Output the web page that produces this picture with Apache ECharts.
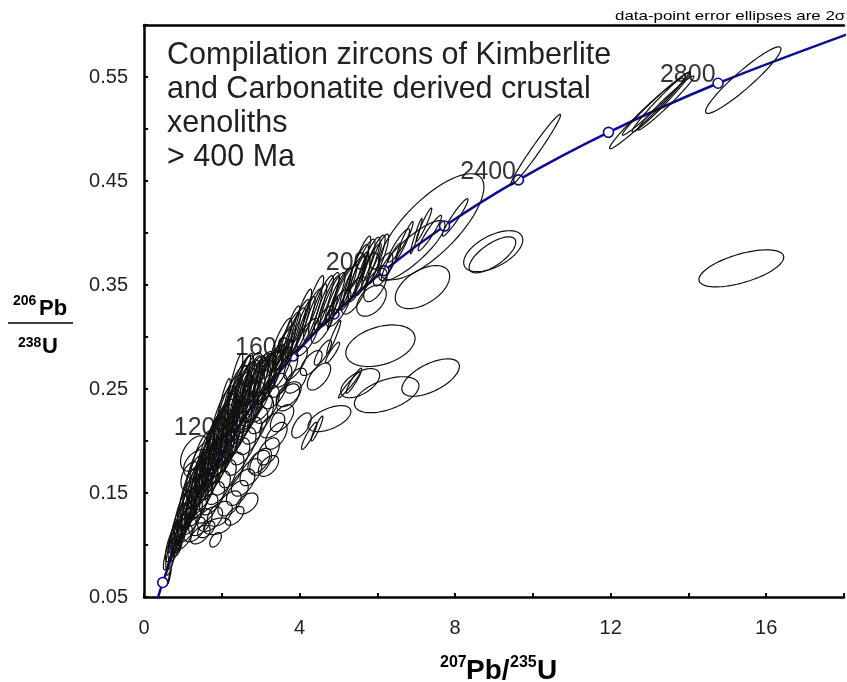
<!DOCTYPE html>
<html><head><meta charset="utf-8">
<script src="https://cdn.jsdelivr.net/npm/echarts@6/dist/echarts.min.js"></script>
<style>html,body{margin:0;padding:0;background:#fff}#c{width:847px;height:682px}</style>
</head><body><div id="c"></div>
<script>
// ---- Concordia (age in Ma, 207Pb/235U, 206Pb/238U) ----
const concAges = [0,200,400,600,800,1000,1200,1400,1600,1800,2000,2200,2400,2600,2800,3000];
const concX = [0,0.2177,0.4828,0.8056,1.1987,1.6774,2.2603,2.9701,3.8344,4.8869,6.1685,7.7292,9.6296,11.9437,14.7617,18.193];
const concY = [0,0.0315,0.0640,0.0975,0.1321,0.1678,0.2046,0.2426,0.2817,0.3221,0.3638,0.4067,0.4511,0.4968,0.5440,0.5926];
const labelAges = [1200,1600,2000,2400,2800];

// ---- Axis tick labels ----
const xTickLabels = [0,4,8,12,16];
const yTickLabels = [0.05,0.15,0.25,0.35,0.45,0.55];

// ---- Error ellipses: [207/235, 206/238, 2s x, 2s y, rho] ----
const ellLowerTip = [
[0.66,0.070,0.04,0.007,0.95],[0.62,0.090,0.12,0.014,0.75],[0.70,0.092,0.14,0.016,0.70],
[0.70,0.100,0.15,0.016,0.70],[0.80,0.102,0.18,0.018,0.65],[0.76,0.108,0.14,0.015,0.75],
[0.82,0.110,0.18,0.018,0.70],[0.92,0.112,0.20,0.018,0.65],[1.02,0.108,0.22,0.012,0.55],
[0.90,0.120,0.20,0.020,0.70],[1.00,0.122,0.22,0.020,0.65],[1.12,0.118,0.25,0.015,0.60],
[1.30,0.115,0.28,0.012,0.50],[0.86,0.098,0.12,0.009,0.60],[1.84,0.105,0.15,0.007,0.50],
[1.45,0.110,0.25,0.009,0.55],[1.60,0.115,0.22,0.008,0.50],[0.68,0.083,0.10,0.012,0.80]
];
const ellLowerBand = [
[1.00,0.130,0.22,0.022,0.65],[1.10,0.132,0.25,0.022,0.62],[1.22,0.128,0.28,0.018,0.60],
[1.45,0.122,0.30,0.013,0.50],[1.70,0.125,0.32,0.012,0.45],
[1.10,0.140,0.24,0.024,0.65],[1.22,0.142,0.28,0.025,0.65],[1.35,0.138,0.30,0.020,0.60],
[1.60,0.135,0.30,0.014,0.55],[1.95,0.130,0.32,0.012,0.45],
[1.18,0.150,0.26,0.025,0.65],[1.30,0.152,0.30,0.026,0.65],[1.45,0.148,0.32,0.022,0.60],
[1.75,0.145,0.32,0.016,0.55],[2.20,0.140,0.30,0.012,0.50],
[1.28,0.160,0.28,0.026,0.65],[1.42,0.162,0.30,0.028,0.68],[1.58,0.158,0.32,0.024,0.62],
[1.90,0.155,0.32,0.016,0.55],[2.40,0.150,0.28,0.012,0.50],
[1.38,0.170,0.30,0.028,0.65],[1.55,0.172,0.32,0.030,0.68],[1.70,0.168,0.32,0.025,0.62],
[2.05,0.165,0.32,0.017,0.55],[2.55,0.160,0.30,0.013,0.50],
[1.50,0.180,0.32,0.030,0.66],[1.68,0.182,0.34,0.030,0.70],[1.85,0.178,0.34,0.026,0.62],
[2.25,0.172,0.32,0.017,0.55],[2.75,0.170,0.28,0.013,0.50],
[1.40,0.178,0.38,0.014,0.35],[1.30,0.188,0.36,0.017,0.45],[1.20,0.166,0.25,0.014,0.40],
[2.33,0.128,0.24,0.009,0.55],[2.65,0.140,0.28,0.010,0.45],[1.88,0.118,0.35,0.008,0.35],
[1.25,0.145,0.20,0.030,0.85],[1.48,0.168,0.22,0.032,0.85],[1.72,0.190,0.24,0.034,0.85]
];
const ellMainCluster = [
[1.68,0.186,0.34,0.031,0.66],[1.80,0.192,0.35,0.032,0.68],[1.98,0.188,0.35,0.028,0.62],
[2.40,0.185,0.32,0.018,0.55],[3.00,0.180,0.28,0.013,0.50],
[1.85,0.198,0.35,0.032,0.66],[1.95,0.202,0.36,0.033,0.70],[2.12,0.198,0.36,0.030,0.64],
[2.55,0.195,0.33,0.018,0.55],[3.20,0.190,0.28,0.013,0.50],
[2.00,0.208,0.35,0.032,0.68],[2.10,0.212,0.36,0.034,0.70],[2.28,0.208,0.36,0.030,0.65],
[2.70,0.205,0.33,0.018,0.55],[3.40,0.205,0.28,0.013,0.55],
[2.05,0.220,0.35,0.033,0.70],[2.25,0.222,0.36,0.034,0.72],[2.45,0.218,0.36,0.030,0.66],
[2.85,0.215,0.33,0.018,0.55],[3.55,0.222,0.30,0.013,0.55],
[2.20,0.230,0.35,0.033,0.70],[2.40,0.232,0.36,0.034,0.72],[2.60,0.228,0.36,0.030,0.66],
[3.00,0.225,0.33,0.018,0.55],
[2.35,0.240,0.35,0.033,0.70],[2.55,0.242,0.36,0.034,0.72],[2.75,0.238,0.36,0.030,0.66],
[3.15,0.235,0.33,0.018,0.55],[3.70,0.242,0.30,0.013,0.50],
[2.50,0.250,0.34,0.032,0.72],[2.70,0.252,0.35,0.033,0.72],[2.90,0.248,0.35,0.030,0.68],
[3.35,0.248,0.33,0.017,0.55],
[2.65,0.252,0.32,0.026,0.74],[2.85,0.254,0.34,0.026,0.74],[3.05,0.258,0.34,0.026,0.70],
[3.50,0.258,0.30,0.016,0.60],
[2.82,0.258,0.30,0.024,0.76],[3.02,0.262,0.32,0.024,0.74],[3.22,0.262,0.32,0.024,0.72],
[3.65,0.268,0.30,0.016,0.65],
[3.10,0.265,0.28,0.020,0.80],[3.30,0.268,0.30,0.020,0.78],[3.50,0.270,0.30,0.020,0.76],
[3.55,0.280,0.28,0.018,0.82],[3.60,0.290,0.30,0.022,0.82],
[1.95,0.190,0.30,0.014,0.40],[2.95,0.232,0.35,0.014,0.50],[3.72,0.245,0.32,0.012,0.50],
[3.30,0.215,0.32,0.012,0.50],[3.20,0.176,0.26,0.010,0.50],[2.95,0.180,0.28,0.011,0.50],
[3.90,0.258,0.28,0.012,0.55],[4.25,0.205,0.20,0.013,0.90],[4.45,0.212,0.15,0.012,0.92],
[4.05,0.215,0.25,0.012,0.60],
[2.00,0.225,0.22,0.035,0.88],[2.30,0.248,0.24,0.036,0.88],[2.50,0.252,0.24,0.030,0.90],
[2.15,0.205,0.26,0.030,0.85],[2.50,0.235,0.26,0.032,0.86]
];
const ellCore = [
[1.35,0.158,0.20,0.022,0.80],[1.50,0.170,0.22,0.024,0.80],[1.65,0.182,0.22,0.025,0.80],
[1.80,0.196,0.24,0.026,0.80],[1.95,0.208,0.24,0.027,0.80],[2.10,0.220,0.25,0.028,0.80],
[2.25,0.232,0.25,0.028,0.80],[2.40,0.244,0.26,0.028,0.80],[2.55,0.256,0.26,0.028,0.80],
[2.75,0.258,0.26,0.024,0.82],[2.95,0.264,0.25,0.020,0.84],[3.30,0.276,0.25,0.016,0.85],
[1.45,0.155,0.28,0.018,0.55],[1.62,0.165,0.28,0.019,0.55],[1.78,0.176,0.30,0.020,0.55],
[1.95,0.186,0.30,0.021,0.55],[2.12,0.196,0.30,0.022,0.55],[2.28,0.206,0.30,0.022,0.55],
[2.45,0.216,0.32,0.022,0.55],[2.62,0.226,0.32,0.022,0.55],[2.78,0.236,0.32,0.022,0.55],
[2.95,0.246,0.32,0.022,0.55],[3.10,0.256,0.30,0.021,0.58],[3.25,0.266,0.30,0.020,0.60],
[1.15,0.135,0.20,0.020,0.75],[1.05,0.125,0.18,0.018,0.75],[0.95,0.115,0.16,0.016,0.75],
[0.85,0.105,0.14,0.014,0.78],[3.55,0.290,0.26,0.018,0.88],[3.40,0.278,0.22,0.015,0.88]
];
const ellUpperBand = [
[3.50,0.292,0.30,0.026,0.85],[3.70,0.296,0.32,0.028,0.86],[3.85,0.302,0.30,0.026,0.86],
[3.95,0.308,0.32,0.028,0.87],[4.10,0.312,0.30,0.027,0.88],[4.25,0.318,0.32,0.028,0.87],
[4.40,0.324,0.30,0.027,0.88],[4.55,0.330,0.32,0.029,0.87],[4.70,0.334,0.32,0.028,0.88],
[4.85,0.336,0.32,0.026,0.87],[5.00,0.340,0.34,0.026,0.87],[5.15,0.345,0.32,0.024,0.88],
[5.35,0.352,0.32,0.026,0.88],[5.45,0.360,0.32,0.029,0.88],[5.60,0.364,0.34,0.030,0.87],
[5.75,0.368,0.32,0.028,0.88],[5.90,0.372,0.30,0.026,0.87],[6.02,0.375,0.27,0.024,0.87],
[4.20,0.300,0.30,0.018,0.75],[4.60,0.312,0.30,0.018,0.75],[5.00,0.328,0.32,0.018,0.75],
[5.40,0.340,0.32,0.018,0.70],[5.85,0.335,0.38,0.015,0.45],[5.95,0.350,0.30,0.016,0.60],
[6.15,0.365,0.25,0.016,0.70],[4.85,0.323,0.13,0.016,0.97],[4.88,0.300,0.18,0.016,0.95],
[3.90,0.275,0.30,0.016,0.70],[4.30,0.275,0.28,0.012,0.65],[4.50,0.262,0.30,0.013,0.60],
[4.60,0.285,0.22,0.012,0.80],[4.85,0.285,0.18,0.010,0.90],
[3.75,0.305,0.25,0.025,0.90],[4.05,0.320,0.26,0.026,0.90],[4.35,0.332,0.27,0.027,0.90],
[4.75,0.335,0.28,0.024,0.90],[5.05,0.342,0.29,0.024,0.90],[5.50,0.358,0.28,0.024,0.90],
[5.55,0.372,0.28,0.025,0.90],[5.85,0.372,0.25,0.018,0.90]
];
const ellNear2200 = [
[6.35,0.372,0.25,0.018,0.93],[6.70,0.393,0.22,0.018,0.95],[7.00,0.397,0.15,0.017,0.96],
[7.35,0.400,0.30,0.017,0.94],[8.00,0.415,0.33,0.018,0.95],[6.55,0.388,0.28,0.016,0.90],
[7.20,0.408,0.20,0.016,0.95],[7.38,0.406,1.36,0.051,0.75],[6.89,0.383,0.85,0.029,0.85]
];
const ellDiscordant = [
[8.98,0.3825,0.76,0.0197,0.55],[8.96,0.379,0.60,0.0173,0.70],[7.16,0.348,0.70,0.0207,0.50],
[6.08,0.2916,0.89,0.020,0.35],[7.37,0.261,0.74,0.018,0.60],[6.24,0.2445,0.83,0.0173,0.50],
[5.56,0.2556,0.50,0.014,0.55],[5.28,0.254,0.28,0.0125,0.97],[5.40,0.258,0.20,0.012,0.93],
[4.77,0.2215,0.55,0.0125,0.55],[15.36,0.366,1.09,0.0178,0.60]
];
const ellOld = [
[10.07,0.480,0.64,0.034,0.98],[12.92,0.515,0.95,0.034,0.98],[13.15,0.524,0.85,0.030,0.985],
[13.30,0.526,0.75,0.029,0.98],[13.42,0.525,0.72,0.026,0.98],[15.41,0.547,0.97,0.032,0.94]
];

const FONT = "'Liberation Sans', Arial, sans-serif";
const BLUE = '#0a0a96';
const INK = '#231f20';

const ellipses = [].concat(ellLowerTip, ellLowerBand, ellMainCluster, ellCore, ellUpperBand, ellNear2200, ellDiscordant, ellOld);
const concData = concX.map((x, i) => [x, concY[i]]);
const labelData = labelAges.map(a => { const i = concAges.indexOf(a); return [concX[i], concY[i], a]; });

function renderEllipse(params, api) {
  const cx = api.value(0), cy = api.value(1), sx = api.value(2), sy = api.value(3), r = api.value(4);
  const k = Math.sqrt(Math.max(0, 1 - r * r));
  const pts = [];
  const N = 90;
  for (let i = 0; i < N; i++) {
    const t = i / N * Math.PI * 2;
    const c = Math.cos(t), s = Math.sin(t);
    pts.push(api.coord([cx + sx * c, cy + sy * (r * c + k * s)]));
  }
  return { type: 'polygon', shape: { points: pts }, style: { fill: 'none', stroke: '#111', lineWidth: 1.2 } };
}

const chart = echarts.init(document.getElementById('c'), null, { renderer: 'canvas', width: 847, height: 682 });
chart.setOption({
  animation: false,
  backgroundColor: '#ffffff',
  grid: { left: 144, right: -5, top: 25, bottom: 85, containLabel: false },
  xAxis: [{
    type: 'value', min: 0, max: 18, interval: 2, position: 'bottom',
    axisLine: { show: true, onZero: false, lineStyle: { color: '#000', width: 2.5 } },
    axisTick: { show: true, inside: true, length: 4, lineStyle: { color: '#000', width: 2 } },
    splitLine: { show: false },
    axisLabel: { margin: 21, fontSize: 20, fontFamily: FONT, color: INK,
      formatter: v => xTickLabels.indexOf(Math.round(v)) >= 0 && Math.abs(v - Math.round(v)) < 1e-6 ? String(Math.round(v)) : '' }
  }, {
    type: 'value', min: 0, max: 18, position: 'top',
    axisLine: { show: true, onZero: false, lineStyle: { color: '#000', width: 2.5 } },
    axisTick: { show: false }, axisLabel: { show: false }, splitLine: { show: false }
  }],
  yAxis: {
    type: 'value', min: 0.05, max: 0.6, interval: 0.05,
    axisLine: { show: true, onZero: false, lineStyle: { color: '#000', width: 2.5 } },
    axisTick: { show: true, inside: true, length: 4, lineStyle: { color: '#000', width: 2 } },
    splitLine: { show: false },
    axisLabel: { margin: 16, fontSize: 20, fontFamily: FONT, color: INK,
      formatter: v => { const m = yTickLabels.find(t => Math.abs(t - v) < 1e-6); return m !== undefined ? m.toFixed(2) : ''; } }
  },
  series: [
    {
      type: 'line', data: concData, smooth: 0.3, clip: true, z: 2,
      symbol: 'circle', symbolSize: 10, showAllSymbol: true,
      lineStyle: { color: BLUE, width: 2.5 },
      itemStyle: { color: '#ffffff', borderColor: BLUE, borderWidth: 1.6 },
      emphasis: { disabled: true }
    },
    {
      type: 'scatter', data: labelData, symbolSize: 1, z: 3, clip: false,
      itemStyle: { color: 'rgba(0,0,0,0)' },
      label: { show: true, position: 'left', distance: 2, offset: [0, -8],
        formatter: p => String(p.value[2]), fontSize: 25, fontFamily: FONT, color: '#000' },
      emphasis: { disabled: true }
    },
    {
      type: 'custom', data: ellipses, renderItem: renderEllipse, clip: true, z: 4,
      encode: { x: 0, y: 1 }, emphasis: { disabled: true }
    }
  ],
  graphic: [
    { type: 'text', x: 167, y: 55.7, style: { text: 'Compilation zircons of Kimberlite', fontSize: 30.5, fontFamily: FONT, fill: INK, verticalAlign: 'middle' } },
    { type: 'text', x: 167, y: 89.7, style: { text: 'and Carbonatite derived crustal', fontSize: 30.5, fontFamily: FONT, fill: INK, verticalAlign: 'middle' } },
    { type: 'text', x: 167, y: 123.7, style: { text: 'xenoliths', fontSize: 30.5, fontFamily: FONT, fill: INK, verticalAlign: 'middle' } },
    { type: 'text', x: 167, y: 157.7, style: { text: '> 400 Ma', fontSize: 30.5, fontFamily: FONT, fill: INK, verticalAlign: 'middle' } },
    { type: 'text', x: 615, y: 16, scaleX: 1.3, style: { text: 'data-point error ellipses are 2σ', fontSize: 13, fontFamily: FONT, fill: '#000', verticalAlign: 'middle' } },
    // y axis title
    { type: 'text', x: 13, y: 300.7, style: { text: '206', fontSize: 14, fontWeight: 'bold', fontFamily: FONT, fill: '#000', verticalAlign: 'middle' } },
    { type: 'text', x: 39, y: 309.2, style: { text: 'Pb', fontSize: 22, fontWeight: 'bold', fontFamily: FONT, fill: '#000', verticalAlign: 'middle' } },
    { type: 'line', shape: { x1: 8, y1: 323, x2: 73, y2: 323 }, style: { stroke: '#000', lineWidth: 1.6 } },
    { type: 'text', x: 18, y: 342.7, style: { text: '238', fontSize: 14, fontWeight: 'bold', fontFamily: FONT, fill: '#000', verticalAlign: 'middle' } },
    { type: 'text', x: 42, y: 347.2, style: { text: 'U', fontSize: 22, fontWeight: 'bold', fontFamily: FONT, fill: '#000', verticalAlign: 'middle' } },
    // x axis title
    { type: 'text', x: 440, y: 663, style: { text: '207', fontSize: 16, fontWeight: 'bold', fontFamily: FONT, fill: '#000', verticalAlign: 'middle' } },
    { type: 'text', x: 466, y: 671.3, style: { text: 'Pb/', fontSize: 28, fontWeight: 'bold', fontFamily: FONT, fill: '#000', verticalAlign: 'middle' } },
    { type: 'text', x: 510, y: 663, style: { text: '235', fontSize: 16, fontWeight: 'bold', fontFamily: FONT, fill: '#000', verticalAlign: 'middle' } },
    { type: 'text', x: 537, y: 671.3, style: { text: 'U', fontSize: 28, fontWeight: 'bold', fontFamily: FONT, fill: '#000', verticalAlign: 'middle' } }
  ]
});
</script>
</body></html>
